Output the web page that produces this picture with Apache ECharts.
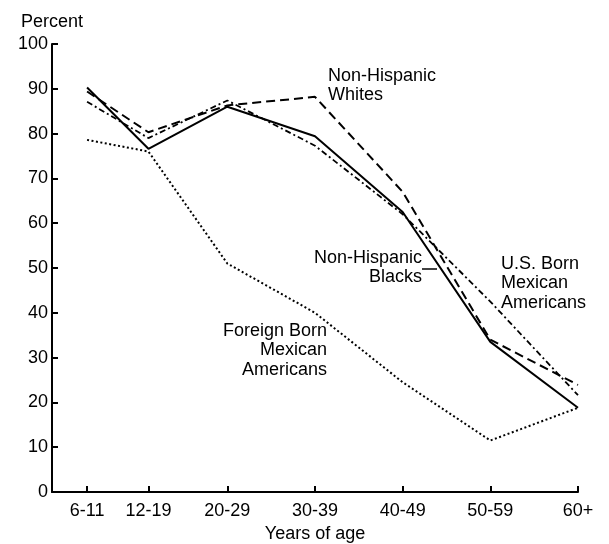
<!DOCTYPE html>
<html>
<head>
<meta charset="utf-8">
<script src="https://cdn.jsdelivr.net/npm/echarts@6/dist/echarts.min.js"></script>
<style>html,body{margin:0;padding:0;background:#fff;}#c{width:609px;height:544px;}</style>
</head>
<body>
<div id="c"></div>
<script>
const categories = ['6-11', '12-19', '20-29', '30-39', '40-49', '50-59', '60+'];
const ageMid = [8.5, 15.5, 24.5, 34.5, 44.5, 54.5, 64.5];
const blacks = [90.3, 76.6, 86, 79.4, 62.5, 33.5, 18.8];
const whites = [89.4, 80.3, 86.3, 88.2, 67, 34, 23.9];
const usBorn = [87.1, 79, 87.4, 77.3, 62, 42.5, 21.6];
const foreignBorn = [78.6, 76, 51, 40, 24.5, 11.5, 18.8];
const yTicks = [0, 10, 20, 30, 40, 50, 60, 70, 80, 90, 100];

const FONT = '"Liberation Sans", Arial, Helvetica, sans-serif';
const pairs = arr => arr.map((v, i) => [ageMid[i], v]);
const labelOf = v => { const i = ageMid.indexOf(v); return i >= 0 ? categories[i] : ''; };

const chart = echarts.init(document.getElementById('c'), null, {renderer: 'canvas'});
const lineBase = (name, data, type, width) => ({
  name, type: 'line', data: pairs(data), symbol: 'none', animation: false,
  lineStyle: {color: '#000', width: width, type: type, cap: 'butt'},
  z: 3
});
const txt = (x, y, text, align) => ({
  type: 'text', x: x, y: y,
  style: {text: text, fontFamily: FONT, fontSize: 18, fill: '#000', lineHeight: 19.5, align: align, verticalAlign: 'top'}
});
chart.setOption({
  backgroundColor: '#fff',
  animation: false,
  grid: {left: 52, right: 31, top: 44, bottom: 52, containLabel: false, outerBoundsMode: 'none'},
  xAxis: {
    type: 'value', min: 4.5, max: 64.5,
    name: 'Years of age', nameLocation: 'middle', nameGap: 30,
    nameTextStyle: {fontFamily: FONT, fontSize: 18, color: '#000'},
    axisLine: {lineStyle: {color: '#000', width: 2}},
    axisTick: {show: true, inside: true, length: 6, lineStyle: {color: '#000', width: 2}, customValues: ageMid},
    axisLabel: {customValues: ageMid, formatter: labelOf, fontFamily: FONT, fontSize: 18, color: '#000', margin: 10},
    splitLine: {show: false}
  },
  yAxis: {
    type: 'value', min: 0, max: 100, interval: 10,
    name: 'Percent', nameLocation: 'end', nameGap: 13,
    nameTextStyle: {fontFamily: FONT, fontSize: 18, color: '#000', align: 'center'},
    axisLine: {show: true, lineStyle: {color: '#000', width: 2}},
    axisTick: {show: true, inside: true, length: 6, lineStyle: {color: '#000', width: 2}},
    axisLabel: {fontFamily: FONT, fontSize: 18, color: '#000', margin: 4,
      formatter: v => yTicks.indexOf(v) >= 0 ? String(v) : ''},
    splitLine: {show: false}
  },
  series: [
    lineBase('Non-Hispanic Blacks', blacks, 'solid', 2),
    lineBase('Non-Hispanic Whites', whites, [9, 5], 2),
    lineBase('U.S. Born Mexican Americans', usBorn, [6, 3, 2, 3], 1.8),
    lineBase('Foreign Born Mexican Americans', foreignBorn, [2, 2.5], 2)
  ],
  graphic: [
    txt(328, 66, 'Non-Hispanic\nWhites', 'left'),
    txt(422, 248, 'Non-Hispanic\nBlacks', 'right'),
    {type: 'line', shape: {x1: 422, y1: 269, x2: 437, y2: 269}, style: {stroke: '#000', lineWidth: 1.5}},
    txt(501, 254, 'U.S. Born\nMexican\nAmericans', 'left'),
    txt(327, 321, 'Foreign Born\nMexican\nAmericans', 'right')
  ]
});
</script>
</body>
</html>
